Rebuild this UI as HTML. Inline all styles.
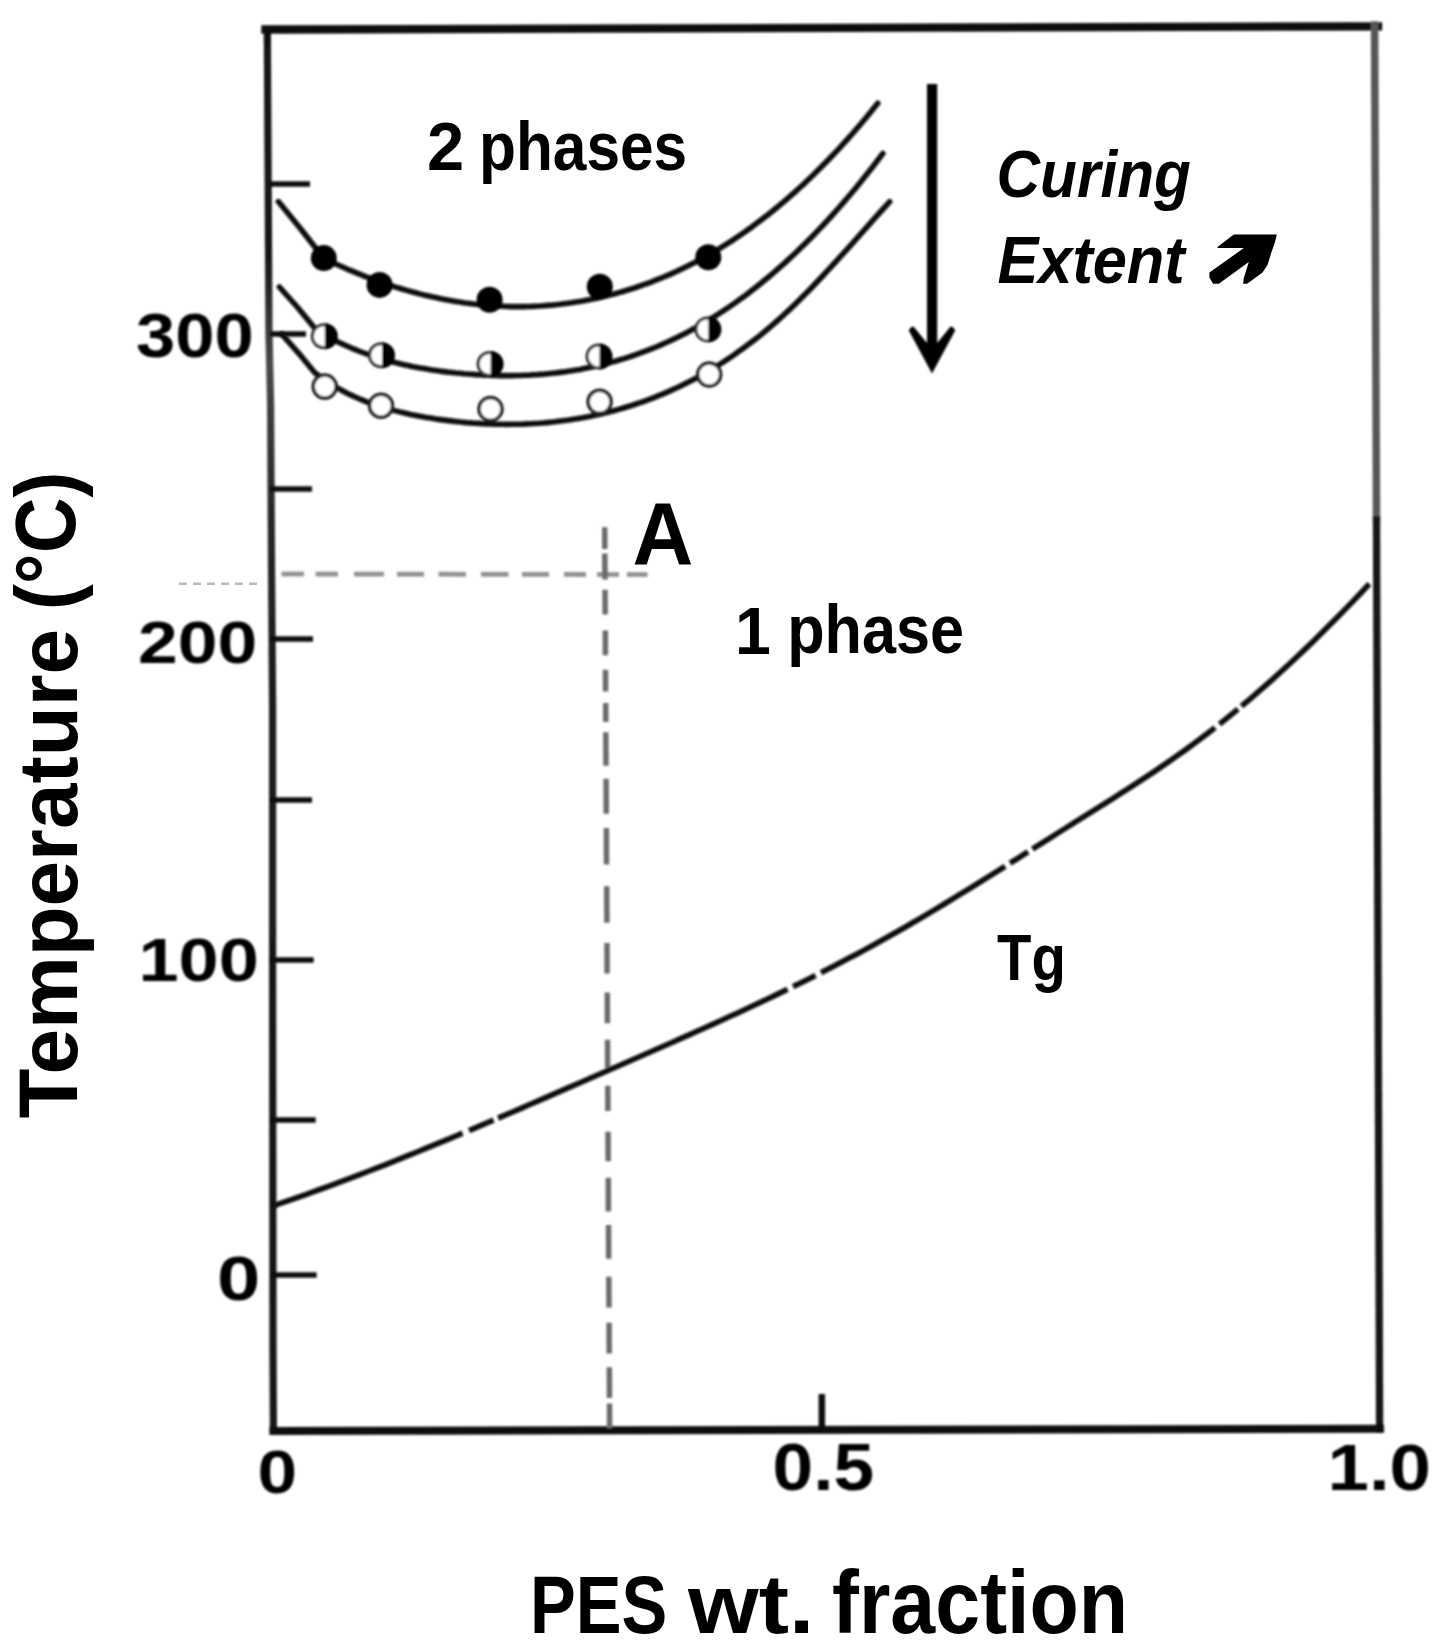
<!DOCTYPE html>
<html><head><meta charset="utf-8"><title>PES wt. fraction phase diagram</title>
<style>
html,body{margin:0;padding:0;background:#fff;}
body{width:1440px;height:1650px;overflow:hidden;}
svg{display:block;}
</style></head>
<body>
<svg width="1440" height="1650" viewBox="0 0 1440 1650">
<rect width="1440" height="1650" fill="#fff"/>
<defs><filter id="b1" x="-5%" y="-5%" width="110%" height="110%"><feGaussianBlur stdDeviation="1"/></filter><filter id="b2" x="-5%" y="-5%" width="110%" height="110%"><feGaussianBlur stdDeviation="1.3"/></filter></defs>
<g filter="url(#b1)">
<defs><linearGradient id="lax" gradientUnits="userSpaceOnUse" x1="0" y1="27" x2="0" y2="1431"><stop offset="0" stop-color="#111"/><stop offset="0.17" stop-color="#1a1a1a"/><stop offset="0.24" stop-color="#4a4a4a"/><stop offset="0.33" stop-color="#2a2a2a"/><stop offset="0.45" stop-color="#1c1c1c"/><stop offset="1" stop-color="#161616"/></linearGradient></defs>
<g fill="none" stroke-linecap="square">
<line x1="265.5" y1="29.5" x2="1378" y2="26.3" stroke="#0a0a0a" stroke-width="8.3"/>
<path d="M267.3 27 L267.7 100 L269 334 L270.6 405 L271.5 560 L272.6 710 L272.6 960 L273 1350 L273.4 1431" stroke="url(#lax)" stroke-width="7.2" stroke-linejoin="round" stroke-linecap="butt"/>
<line x1="1374.6" y1="25" x2="1376.5" y2="520" stroke="#575757" stroke-width="7.5"/>
<line x1="1376.5" y1="520" x2="1379.6" y2="1429" stroke="#141414" stroke-width="7.3"/>
<line x1="273.4" y1="1431" x2="1380" y2="1428.7" stroke="#0a0a0a" stroke-width="8"/>
</g>
<g stroke="#111" stroke-width="5.5">
<line x1="270" y1="184" x2="310" y2="184"/>
<line x1="270" y1="334" x2="306" y2="334"/>
<line x1="270" y1="489" x2="312" y2="489"/>
<line x1="270" y1="639" x2="313" y2="639"/>
<line x1="270" y1="800" x2="312" y2="800"/>
<line x1="270" y1="960" x2="313.7" y2="960"/>
<line x1="270" y1="1120" x2="315.7" y2="1120"/>
<line x1="270" y1="1275" x2="316.7" y2="1275"/>
<line x1="821.8" y1="1394" x2="821.8" y2="1430" stroke-width="6.5"/>
</g>
</g>
<g fill="none" stroke="#929292" stroke-width="4.8" filter="url(#b2)">
<line x1="281.5" y1="574" x2="304" y2="574"/>
<line x1="315.6" y1="574.1" x2="338" y2="574.1"/>
<line x1="354" y1="574.1" x2="384" y2="574.2"/>
<line x1="397" y1="574.2" x2="424" y2="574.2"/>
<line x1="438.5" y1="574.2" x2="466" y2="574.3"/>
<line x1="481" y1="574.3" x2="508.5" y2="574.3"/>
<line x1="522" y1="574.4" x2="549" y2="574.4"/>
<line x1="564" y1="574.4" x2="586" y2="574.5"/>
<line x1="597" y1="574.5" x2="619" y2="574.5"/>
<line x1="627" y1="574.5" x2="647.5" y2="574.5"/>
<line x1="604.7" y1="527.2" x2="604.8" y2="549.1" stroke="#6a6a6a" stroke-width="5.5"/>
<line x1="604.8" y1="553.4" x2="605" y2="579.5" stroke="#6a6a6a" stroke-width="5.5"/>
<line x1="605" y1="589.7" x2="605.2" y2="614.5" stroke="#6a6a6a" stroke-width="5.5"/>
<line x1="605.3" y1="630.5" x2="605.4" y2="655.2" stroke="#6a6a6a" stroke-width="5.5"/>
<line x1="605.5" y1="669.7" x2="605.6" y2="691.5" stroke="#6a6a6a" stroke-width="5.5"/>
<line x1="605.7" y1="703.1" x2="605.8" y2="722.1" stroke="#6a6a6a" stroke-width="5.5"/>
<line x1="605.8" y1="732.2" x2="606" y2="765.7" stroke="#6a6a6a" stroke-width="5.5"/>
<line x1="606.1" y1="778.7" x2="606.3" y2="813.7" stroke="#6a6a6a" stroke-width="5.5"/>
<line x1="606.4" y1="828.1" x2="606.5" y2="864.5" stroke="#6a6a6a" stroke-width="5.5"/>
<line x1="606.7" y1="886.2" x2="606.9" y2="922.7" stroke="#6a6a6a" stroke-width="5.5"/>
<line x1="607" y1="942.9" x2="607.1" y2="973.5" stroke="#6a6a6a" stroke-width="5.5"/>
<line x1="607.3" y1="992.5" x2="607.4" y2="1023.3" stroke="#6a6a6a" stroke-width="5.5"/>
<line x1="607.5" y1="1039.8" x2="607.7" y2="1067.9" stroke="#6a6a6a" stroke-width="5.5"/>
<line x1="607.8" y1="1085.8" x2="607.9" y2="1111.1" stroke="#6a6a6a" stroke-width="5.5"/>
<line x1="608" y1="1131.8" x2="608.2" y2="1161.2" stroke="#6a6a6a" stroke-width="5.5"/>
<line x1="608.3" y1="1177.7" x2="608.4" y2="1211.4" stroke="#6a6a6a" stroke-width="5.5"/>
<line x1="608.5" y1="1225.1" x2="608.7" y2="1258.8" stroke="#6a6a6a" stroke-width="5.5"/>
<line x1="608.8" y1="1276.7" x2="609" y2="1307.5" stroke="#6a6a6a" stroke-width="5.5"/>
<line x1="609.1" y1="1322.7" x2="609.2" y2="1353.5" stroke="#6a6a6a" stroke-width="5.5"/>
<line x1="609.3" y1="1367.2" x2="609.5" y2="1398.1" stroke="#6a6a6a" stroke-width="5.5"/>
<line x1="609.5" y1="1403.5" x2="609.6" y2="1428.5" stroke="#6a6a6a" stroke-width="5.5"/>
</g>
<line x1="179" y1="583.8" x2="259" y2="583.8" stroke="#bbb" stroke-width="2.5" stroke-dasharray="8 6"/>
<g filter="url(#b1)">
<g fill="none" stroke="#0d0d0d" stroke-width="5.6" stroke-linecap="round" stroke-linejoin="round">
<path d="M278.4 201.6 L301 229.2 L323.7 258.3 L327.7 260.3 L331.7 262.1 L335.7 264 L339.7 265.8 L343.7 267.5 L347.7 269.3 L351.7 270.9 L355.7 272.6 L359.7 274.2 L363.7 275.8 L367.7 277.3 L371.7 278.8 L375.7 280.3 L379.7 281.7 L383.7 283.1 L387.7 284.5 L391.7 285.8 L395.7 287.1 L399.7 288.3 L403.7 289.5 L407.7 290.6 L411.7 291.8 L415.7 292.8 L419.7 293.9 L423.7 294.9 L427.7 295.8 L431.7 296.8 L435.7 297.6 L439.7 298.5 L443.7 299.3 L447.7 300 L451.7 300.7 L455.7 301.4 L459.7 302.1 L463.7 302.7 L467.7 303.2 L471.7 303.7 L475.7 304.2 L479.7 304.6 L483.7 305 L487.7 305.4 L491.7 305.7 L495.7 305.9 L499.7 306.1 L503.7 306.3 L507.7 306.5 L511.7 306.6 L515.7 306.6 L519.7 306.6 L523.7 306.6 L527.7 306.5 L531.7 306.4 L535.7 306.2 L539.7 306 L543.7 305.7 L547.7 305.4 L551.7 305.1 L555.7 304.7 L559.7 304.3 L563.7 303.8 L567.7 303.3 L571.7 302.7 L575.7 302.1 L579.7 301.5 L583.7 300.8 L587.7 300 L591.7 299.2 L595.7 298.4 L599.7 297.5 L603.7 296.6 L607.7 295.6 L611.7 294.6 L615.7 293.5 L619.7 292.4 L623.7 291.2 L627.7 290 L631.7 288.8 L635.7 287.5 L639.7 286.1 L643.7 284.7 L647.7 283.3 L651.7 281.8 L655.7 280.2 L659.7 278.6 L663.7 277 L667.7 275.3 L671.7 273.6 L675.7 271.7 L679.7 269.9 L683.7 268 L687.7 266 L691.7 264 L695.7 261.9 L699.7 259.8 L703.7 257.6 L707.7 255.4 L711.7 253.1 L715.7 250.8 L719.7 248.4 L723.7 245.9 L727.7 243.4 L731.7 240.8 L735.7 238.2 L739.7 235.5 L743.7 232.7 L747.7 229.9 L751.7 227.1 L755.7 224.1 L759.7 221.1 L763.7 218.1 L767.7 215 L771.7 211.8 L775.7 208.5 L779.7 205.2 L783.7 201.9 L787.7 198.4 L791.7 194.9 L795.7 191.4 L799.7 187.7 L803.7 184.1 L807.7 180.3 L811.7 176.5 L815.7 172.6 L819.7 168.6 L823.7 164.6 L827.7 160.5 L831.7 156.3 L835.7 152.1 L839.7 147.8 L843.7 143.4 L847.7 139 L851.7 134.5 L855.7 129.9 L859.7 125.2 L863.7 120.5 L867.7 115.7 L871.7 110.8 L875.7 105.8 L877.8 103.2"/>
<path d="M279.4 287 L297.7 307.5 L316 329.8 L320 332.2 L324 334.5 L328 336.7 L332 338.9 L336 340.9 L340 342.9 L344 344.7 L348 346.5 L352 348.3 L356 349.9 L360 351.5 L364 353 L368 354.4 L372 355.8 L376 357.1 L380 358.3 L384 359.5 L388 360.7 L392 361.7 L396 362.8 L400 363.7 L404 364.7 L408 365.5 L412 366.4 L416 367.2 L420 367.9 L424 368.6 L428 369.3 L432 369.9 L436 370.5 L440 371.1 L444 371.6 L448 372.1 L452 372.5 L456 373 L460 373.3 L464 373.7 L468 374 L472 374.3 L476 374.6 L480 374.8 L484 375.1 L488 375.2 L492 375.4 L496 375.5 L500 375.6 L504 375.6 L508 375.6 L512 375.6 L516 375.5 L520 375.5 L524 375.3 L528 375.2 L532 374.9 L536 374.7 L540 374.4 L544 374.1 L548 373.7 L552 373.3 L556 372.9 L560 372.4 L564 371.9 L568 371.3 L572 370.7 L576 370.1 L580 369.4 L584 368.6 L588 367.8 L592 367 L596 366.1 L600 365.2 L604 364.2 L608 363.2 L612 362.1 L616 361 L620 359.8 L624 358.6 L628 357.3 L632 356 L636 354.6 L640 353.2 L644 351.7 L648 350.2 L652 348.6 L656 347 L660 345.3 L664 343.5 L668 341.7 L672 339.9 L676 338 L680 336 L684 333.9 L688 331.9 L692 329.7 L696 327.5 L700 325.2 L704 322.9 L708 320.5 L712 318.1 L716 315.6 L720 313 L724 310.4 L728 307.7 L732 305 L736 302.2 L740 299.3 L744 296.4 L748 293.4 L752 290.3 L756 287.2 L760 284 L764 280.8 L768 277.5 L772 274.1 L776 270.6 L780 267.1 L784 263.6 L788 259.9 L792 256.2 L796 252.5 L800 248.6 L804 244.7 L808 240.7 L812 236.7 L816 232.6 L820 228.4 L824 224.2 L828 219.9 L832 215.5 L836 211 L840 206.5 L844 201.9 L848 197.2 L852 192.5 L856 187.7 L860 182.8 L864 177.8 L868 172.8 L872 167.7 L876 162.5 L880 157.3 L882.9 153.4"/>
<path d="M282 334.4 L298.3 352.8 L314.6 372.5 L318.6 375.5 L322.6 378.4 L326.6 381.1 L330.6 383.8 L334.6 386.2 L338.6 388.6 L342.6 390.8 L346.6 392.9 L350.6 394.9 L354.6 396.7 L358.6 398.5 L362.6 400.2 L366.6 401.8 L370.6 403.3 L374.6 404.7 L378.6 406 L382.6 407.2 L386.6 408.4 L390.6 409.5 L394.6 410.6 L398.6 411.6 L402.6 412.6 L406.6 413.5 L410.6 414.4 L414.6 415.2 L418.6 416 L422.6 416.7 L426.6 417.5 L430.6 418.1 L434.6 418.8 L438.6 419.4 L442.6 419.9 L446.6 420.4 L450.6 420.9 L454.6 421.4 L458.6 421.8 L462.6 422.2 L466.6 422.6 L470.6 422.9 L474.6 423.2 L478.6 423.4 L482.6 423.7 L486.6 423.9 L490.6 424 L494.6 424.2 L498.6 424.3 L502.6 424.3 L506.6 424.4 L510.6 424.3 L514.6 424.3 L518.6 424.2 L522.6 424.1 L526.6 423.9 L530.6 423.8 L534.6 423.5 L538.6 423.3 L542.6 423 L546.6 422.6 L550.6 422.2 L554.6 421.8 L558.6 421.3 L562.6 420.8 L566.6 420.3 L570.6 419.7 L574.6 419.1 L578.6 418.4 L582.6 417.7 L586.6 417 L590.6 416.2 L594.6 415.3 L598.6 414.5 L602.6 413.5 L606.6 412.6 L610.6 411.6 L614.6 410.5 L618.6 409.4 L622.6 408.2 L626.6 407 L630.6 405.8 L634.6 404.5 L638.6 403.2 L642.6 401.8 L646.6 400.4 L650.6 398.9 L654.6 397.3 L658.6 395.7 L662.6 394.1 L666.6 392.4 L670.6 390.6 L674.6 388.8 L678.6 387 L682.6 385 L686.6 383 L690.6 381 L694.6 378.9 L698.6 376.7 L702.6 374.5 L706.6 372.2 L710.6 369.9 L714.6 367.5 L718.6 365 L722.6 362.5 L726.6 359.9 L730.6 357.2 L734.6 354.5 L738.6 351.6 L742.6 348.8 L746.6 345.8 L750.6 342.8 L754.6 339.7 L758.6 336.6 L762.6 333.3 L766.6 330 L770.6 326.6 L774.6 323.2 L778.6 319.6 L782.6 316 L786.6 312.3 L790.6 308.6 L794.6 304.7 L798.6 300.8 L802.6 296.8 L806.6 292.8 L810.6 288.7 L814.6 284.5 L818.6 280.3 L822.6 276 L826.6 271.7 L830.6 267.4 L834.6 263 L838.6 258.6 L842.6 254.2 L846.6 249.8 L850.6 245.3 L854.6 240.8 L858.6 236.3 L862.6 231.9 L866.6 227.4 L870.6 222.9 L874.6 218.4 L878.6 213.9 L882.6 209.5 L886.6 205.1 L889.7 201.7"/>
<path d="M273.1 1205.8 L281.1 1203.1 L289.1 1200.4 L297.1 1197.6 L305.1 1194.8 L313.1 1191.9 L321.1 1189 L329.1 1186.1 L337.1 1183.2 L345.1 1180.2 L353.1 1177.2 L361.1 1174.1 L369.1 1171 L377.1 1167.9 L385.1 1164.8 L393.1 1161.6 L401.1 1158.4 L409.1 1155.2 L417.1 1152 L425.1 1148.7 L433.1 1145.4 L441.1 1142.2 L449.1 1138.8 L457.1 1135.5 L465.1 1132.1 L473.1 1128.8 L481.1 1125.4 L489.1 1122 L497.1 1118.6 L505.1 1115.2 L513.1 1111.7 L521.1 1108.3 L529.1 1104.8 L537.1 1101.4 L545.1 1097.9 L553.1 1094.4 L561.1 1090.9 L569.1 1087.4 L577.1 1084 L585.1 1080.5 L593.1 1077 L601.1 1073.5 L609.1 1070 L617.1 1066.5 L625.1 1063 L633.1 1059.5 L641.1 1056 L649.1 1052.5 L657.1 1049 L665.1 1045.5 L673.1 1042 L681.1 1038.4 L689.1 1034.9 L697.1 1031.3 L705.1 1027.7 L713.1 1024.1 L721.1 1020.5 L729.1 1016.8 L737.1 1013.2 L745.1 1009.5 L753.1 1005.7 L761.1 1002 L769.1 998.2 L777.1 994.4 L785.1 990.5 L793.1 986.6 L801.1 982.7 L809.1 978.7 L817.1 974.7 L825.1 970.6 L833.1 966.5 L841.1 962.3 L849.1 958.1 L857.1 953.9 L865.1 949.6 L873.1 945.2 L881.1 940.8 L889.1 936.3 L897.1 931.8 L905.1 927.2 L913.1 922.5 L921.1 917.8 L929.1 913.1 L937.1 908.3 L945.1 903.5 L953.1 898.6 L961.1 893.7 L969.1 888.8 L977.1 883.8 L985.1 878.9 L993.1 873.9 L1001.1 868.9 L1009.1 863.8 L1017.1 858.8 L1025.1 853.7 L1033.1 848.7 L1041.1 843.6 L1049.1 838.6 L1057.1 833.5 L1065.1 828.5 L1073.1 823.4 L1081.1 818.4 L1089.1 813.4 L1097.1 808.4 L1105.1 803.3 L1113.1 798.3 L1121.1 793.2 L1129.1 788.1 L1137.1 782.9 L1145.1 777.6 L1153.1 772.3 L1161.1 766.9 L1169.1 761.4 L1177.1 755.8 L1185.1 750.1 L1193.1 744.3 L1201.1 738.3 L1209.1 732.2 L1217.1 726 L1225.1 719.6 L1233.1 713.1 L1241.1 706.5 L1249.1 699.8 L1257.1 692.9 L1265.1 685.9 L1273.1 678.8 L1281.1 671.5 L1289.1 664.2 L1297.1 656.7 L1305.1 649.1 L1313.1 641.4 L1321.1 633.5 L1329.1 625.6 L1337.1 617.5 L1345.1 609.4 L1353.1 601.1 L1361.1 592.7 L1369.1 584.2 L1369.4 583.9" stroke-dasharray="202.9 7.1 26.6 4.9 316.9 6.1 25.1 6.2 212.6 5.9 21.3 5.3 219.3 5.7 23.8 4.5 187.1 0" stroke-linecap="butt"/>
</g>
<g>
<circle cx="323.8" cy="258.1" r="13" fill="#000"/>
<circle cx="379.6" cy="284.9" r="13" fill="#000"/>
<circle cx="489.6" cy="299.8" r="13" fill="#000"/>
<circle cx="599.8" cy="286.8" r="13" fill="#000"/>
<circle cx="708.3" cy="257.3" r="13" fill="#000"/>
<circle cx="323.8" cy="336.3" r="11.5" fill="#fff" stroke="#333" stroke-width="3"/>
<path d="M324.8 323.3 A13 13 0 0 1 324.8 349.3 Z" fill="#000"/>
<circle cx="381" cy="355.3" r="11.5" fill="#fff" stroke="#333" stroke-width="3"/>
<path d="M382 342.3 A13 13 0 0 1 382 368.3 Z" fill="#000"/>
<circle cx="489.6" cy="364" r="11.5" fill="#fff" stroke="#333" stroke-width="3"/>
<path d="M490.6 351 A13 13 0 0 1 490.6 377 Z" fill="#000"/>
<circle cx="598.5" cy="356.5" r="11.5" fill="#fff" stroke="#333" stroke-width="3"/>
<path d="M599.5 343.5 A13 13 0 0 1 599.5 369.5 Z" fill="#000"/>
<circle cx="707.4" cy="329.4" r="11.5" fill="#fff" stroke="#333" stroke-width="3"/>
<path d="M708.4 316.4 A13 13 0 0 1 708.4 342.4 Z" fill="#000"/>
<circle cx="324.7" cy="386.6" r="11.5" fill="#fff" stroke="#222" stroke-width="3.5"/>
<circle cx="381" cy="405.7" r="11.5" fill="#fff" stroke="#222" stroke-width="3.5"/>
<circle cx="490.5" cy="409" r="11.5" fill="#fff" stroke="#222" stroke-width="3.5"/>
<circle cx="599.6" cy="401.8" r="11.5" fill="#fff" stroke="#222" stroke-width="3.5"/>
<circle cx="709.2" cy="374.5" r="11.5" fill="#fff" stroke="#222" stroke-width="3.5"/>
</g>
<polygon points="927,84 937.2,84 937.2,343 950.5,326.5 953.5,327.5 955.2,330.5 932,373.5 908.8,330.5 910.5,327.5 913.5,326.5 927,343" fill="#000"/>
</g>
<polygon points="1217.5,246.9 1233.8,234.4 1276.9,234.4 1275,241.9 1271.2,253.1 1267.5,265 1262.5,272.5 1250.6,281.2 1246.9,283.8 1243.1,283.8 1243.8,278.1 1248.8,261.9 1218.8,283.8 1213.1,283.8 1209.4,277.5 1209.4,272.5 1243.8,248.1 1217.5,248.1" fill="#000"/>
<g font-family="'Liberation Sans', Arial, Helvetica, sans-serif" font-weight="bold" fill="#000">
<g filter="url(#b1)">
<text x="136" y="356.5" font-size="62.2" textLength="117.7" lengthAdjust="spacingAndGlyphs">300</text>
<text x="138" y="663.2" font-size="60.1" textLength="119.2" lengthAdjust="spacingAndGlyphs">200</text>
<text x="138.5" y="981.2" font-size="61.7" textLength="120.3" lengthAdjust="spacingAndGlyphs">100</text>
<text x="217" y="1299.5" font-size="62.7" textLength="43.3" lengthAdjust="spacingAndGlyphs">0</text>
<text x="257.5" y="1492.8" font-size="61.6" textLength="39.6" lengthAdjust="spacingAndGlyphs">0</text>
<text x="772.5" y="1490" font-size="66.7" textLength="101.6" lengthAdjust="spacingAndGlyphs">0.5</text>
<text x="1327.5" y="1490" font-size="64.4" textLength="103.5" lengthAdjust="spacingAndGlyphs">1.0</text>
</g>
<text x="427" y="169.5" font-size="68.8" textLength="37.2" lengthAdjust="spacingAndGlyphs">2</text>
<text x="479" y="170" font-size="68.2" textLength="208.2" lengthAdjust="spacingAndGlyphs">phases</text>
<text x="735" y="653.8" font-size="65.8" textLength="35.8" lengthAdjust="spacingAndGlyphs">1</text>
<text x="787.2" y="653.4" font-size="67.9" textLength="176.9" lengthAdjust="spacingAndGlyphs">phase</text>
<text x="997" y="979.5" font-size="65.4" textLength="68.8" lengthAdjust="spacingAndGlyphs">Tg</text>
<text x="632.5" y="565" font-size="89.7" textLength="60.8" lengthAdjust="spacingAndGlyphs">A</text>
<text x="530" y="1632.8" font-size="81.8" textLength="137.3" lengthAdjust="spacingAndGlyphs">PES</text>
<text x="688" y="1632.8" font-size="84.2" textLength="126.2" lengthAdjust="spacingAndGlyphs">wt.</text>
<text x="832" y="1633.2" font-size="88.7" textLength="296.1" lengthAdjust="spacingAndGlyphs">fraction</text>
<text x="996.5" y="197.4" font-size="66.3" font-style="italic" textLength="194.5" lengthAdjust="spacingAndGlyphs">Curing</text>
<text x="997.5" y="283.1" font-size="66.3" font-style="italic" textLength="187.1" lengthAdjust="spacingAndGlyphs">Extent</text>
<text transform="translate(76.8 1118.5) rotate(-90)" font-size="84.3" textLength="489.5" lengthAdjust="spacingAndGlyphs">Temperature</text>
<text transform="translate(75.2 610) rotate(-90)" font-size="84.9" textLength="138.3" lengthAdjust="spacingAndGlyphs">(°C)</text>
</g>
</svg>
</body></html>
